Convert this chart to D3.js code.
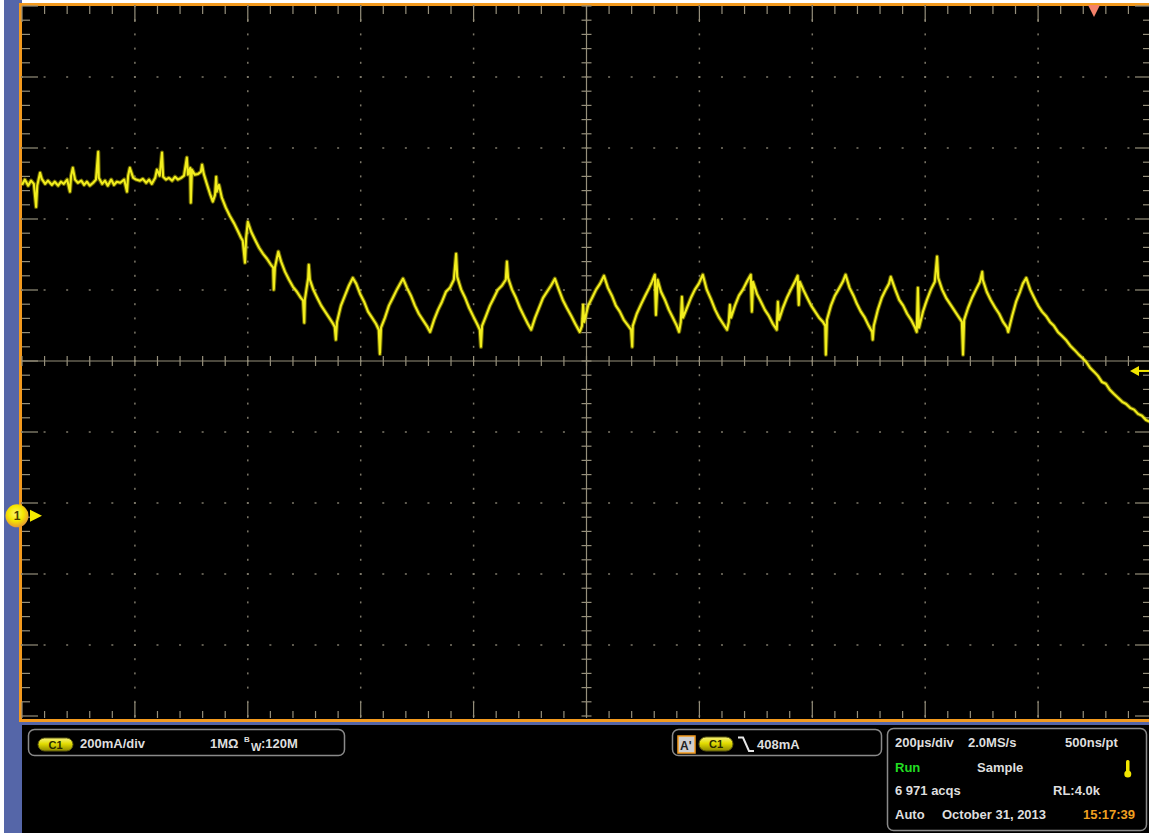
<!DOCTYPE html>
<html><head><meta charset="utf-8">
<script src="https://cdn.jsdelivr.net/npm/d3@7"></script>
<style>
body{margin:0;background:#fff;}
svg{display:block;font-family:"Liberation Sans",Arial,sans-serif;}
</style>
</head><body>
<svg id="c" width="1149" height="833"></svg>
<script>
// ---------------- settings ----------------
const MA_PER_DIV = 200;      // 200mA/div
const US_PER_DIV = 200;      // 200µs/div
const CH1_POSITION_DIV = -2.18; // ground marker position (divisions from centre)
const TRIGGER_LEVEL_MA = 408;
const TRIGGER_TIME_US = 1899;

// ---------------- waveform: [time µs, current mA] ----------------
const plateauPts = [[0,932],[5,947],[11,930],[16,944],[21,935],[25,870],[27,930],[32,966],[35,949],[41,935],[46,944],[53,932],[58,941],[64,930],[69,941],[74,935],[80,947],[85,913],[87,958],[90,980],[94,947],[99,938],[105,944],[110,932],[115,941],[120,930],[126,938],[131,947],[135,1025],[136,952],[142,935],[147,944],[152,930],[158,947],[163,932],[168,941],[174,938],[181,947],[186,913],[188,958],[191,980],[197,952],[202,947],[209,944],[214,949],[220,938],[225,947],[230,935],[236,952],[239,975],[244,958],[248,1023],[250,955],[255,947],[260,952],[266,944],[271,955],[276,947],[282,952],[287,958],[292,1009],[294,961],[298,980],[299,882],[301,975],[306,961],[312,963],[317,969],[319,989],[322,963]];

const rampPts = [[328,932],[333,907],[338,885],[342,904],[344,955],[345,913],[349,932],[354,896],[361,868],[368,845],[376,823],[383,800],[388,783],[391,775],[395,713],[397,783],[400,828],[406,800],[413,777],[420,755],[427,738],[434,724],[441,707],[445,699],[446,637],[448,699],[454,744],[459,716],[466,687],[473,665],[480,645],[487,631],[494,614],[498,606],[500,544],[501,608],[507,670],[508,707],[510,665],[516,637],[523,614],[530,592],[537,575],[544,558],[551,541],[554,532],[556,496],[558,546],[565,592],[572,620],[579,648],[586,670]];

const ripplePts = [[592,654],[599,625],[606,603],[613,575],[620,558],[627,541],[632,524],[634,456],[636,530],[643,558],[650,592],[657,614],[664,637],[670,654],[675,668],[682,642],[689,620],[696,592],[703,569],[710,552],[717,535],[723,518],[730,552],[737,580],[744,603],[751,631],[758,642],[765,665],[769,738],[771,673],[778,637],[785,614],[792,586],[799,563],[806,541],[811,524],[813,476],[815,535],[822,563],[829,592],[836,614],[843,637],[850,648],[857,665],[859,716],[861,670],[868,637],[875,614],[882,586],[889,563],[896,541],[902,524],[909,558],[916,586],[923,614],[930,631],[937,648],[944,668],[951,637],[958,608],[965,586],[973,563],[980,541],[988,518],[992,535],[994,594],[996,546],[1003,592],[1010,614],[1017,637],[1024,654],[1031,676],[1038,642],[1045,620],[1052,592],[1059,575],[1066,552],[1074,535],[1079,524],[1081,476],[1082,535],[1089,569],[1097,597],[1104,620],[1111,642],[1116,659],[1121,679],[1123,566],[1126,665],[1132,631],[1139,608],[1146,580],[1153,558],[1160,535],[1164,518],[1167,546],[1169,617],[1171,558],[1178,586],[1185,614],[1192,637],[1199,654],[1206,679],[1213,637],[1221,608],[1228,580],[1235,558],[1242,541],[1249,524],[1252,546],[1254,594],[1256,558],[1263,592],[1270,620],[1277,637],[1284,659],[1291,679],[1293,575],[1295,659],[1302,625],[1309,603],[1316,580],[1323,563],[1330,541],[1337,524],[1339,603],[1341,552],[1348,586],[1355,614],[1362,637],[1369,659],[1374,676],[1376,594],[1378,659],[1384,637],[1391,614],[1398,592],[1405,575],[1412,558],[1419,546],[1423,535],[1424,454],[1426,552],[1433,592],[1440,620],[1448,642],[1454,659],[1459,679],[1466,642],[1473,620],[1479,597],[1486,575],[1493,558],[1500,535],[1506,518],[1507,496],[1509,535],[1516,580],[1523,614],[1530,637],[1536,654],[1539,673],[1547,637],[1554,608],[1561,592],[1568,569],[1575,552],[1582,530],[1585,518],[1587,642],[1589,530],[1596,575],[1603,608],[1610,637],[1617,659],[1621,730],[1623,670],[1630,637],[1637,614],[1644,597],[1651,580],[1658,563],[1665,546],[1667,454],[1669,552],[1676,586],[1683,614],[1690,637],[1697,659],[1701,687],[1702,665],[1709,631],[1716,608],[1724,586],[1731,569],[1738,546],[1745,530],[1747,518],[1754,563],[1761,603],[1768,631],[1773,654],[1779,670]];

const tailPts = [[1786,637],[1793,614],[1800,592],[1807,575],[1814,563],[1821,546],[1828,535],[1835,518],[1842,507],[1849,496],[1857,479],[1864,468],[1871,456],[1878,445],[1885,434],[1892,417],[1899,406],[1906,394],[1913,377],[1920,372],[1927,355],[1934,344],[1942,332],[1949,321],[1956,315],[1963,304],[1970,299],[1977,287],[1984,282],[1991,270],[1998,265]];

// ---------------- readouts ----------------
const ch1Readout = ["200mA/div", "1MΩ", "120M"];
const trigReadout = ["C1", "408mA"];
const acqRow1 = ["200µs/div", "2.0MS/s", "500ns/pt"];
const acqRow2 = ["Run", "Sample"];
const acqRow3 = ["6 971 acqs", "RL:4.0k"];
const acqRow4 = ["Auto", "October 31, 2013", "15:17:39"];

// ---------------- drawing ----------------
const svg = d3.select("#c");
const W = 1149, H = 833;
const L = 22, R = 1151, T = 6, B = 716;

const xDiv = d3.scaleLinear().domain([0, 10]).range([L, R]);
const yDiv = d3.scaleLinear().domain([-5, 5]).range([B, T]);
const x = d3.scaleLinear().domain([0, 10 * US_PER_DIV]).range([L, R]);
const y = d3.scaleLinear()
  .domain([(-5 - CH1_POSITION_DIV) * MA_PER_DIV, (5 - CH1_POSITION_DIV) * MA_PER_DIV])
  .range([B, T]);

const ORANGE = "#f39a1e", BLUE = "#5566a8", GRID = "#958f7b", DOT = "#7d7869", TRACE = "#f2ee1e";

svg.append("rect").attr("width", W).attr("height", H).attr("fill", "#fff");
svg.append("rect").attr("x", 4).attr("y", 0).attr("width", 18).attr("height", H).attr("fill", BLUE);
svg.append("rect").attr("x", 22).attr("y", 722).attr("width", W - 22).attr("height", H - 722).attr("fill", "#000");
svg.append("rect").attr("x", 4).attr("y", 722).attr("width", W - 4).attr("height", 3).attr("fill", BLUE);
svg.append("rect").attr("x", L).attr("y", 3).attr("width", W - L).attr("height", 716).attr("fill", "#000");
svg.append("rect").attr("x", 19).attr("y", 3).attr("width", W - 19).attr("height", 3).attr("fill", ORANGE);
svg.append("rect").attr("x", 19).attr("y", 3).attr("width", 3).attr("height", 719).attr("fill", ORANGE);
svg.append("rect").attr("x", 19).attr("y", 719).attr("width", W - 19).attr("height", 3).attr("fill", ORANGE);

const grat = svg.append("g");
const minorX = d3.range(0, 51).map(i => i / 5);
const minorY = d3.range(-25, 26).map(i => i / 5);
for (let i = 1; i < 10; i++) {
  if (i === 5) continue;
  grat.selectAll(null).data(minorY).join("rect")
    .attr("x", xDiv(i) - 0.75).attr("y", d => yDiv(d) - 1).attr("width", 1.5).attr("height", 2).attr("fill", DOT);
}
for (let j = -4; j <= 4; j++) {
  if (j === 0) continue;
  grat.selectAll(null).data(minorX).join("rect")
    .attr("x", d => xDiv(d) - 1).attr("y", yDiv(j) - 0.75).attr("width", 2).attr("height", 1.5).attr("fill", DOT);
}
grat.append("line").attr("x1", xDiv(5)).attr("x2", xDiv(5)).attr("y1", T).attr("y2", B).attr("stroke", GRID).attr("stroke-width", 1.2);
grat.append("line").attr("x1", L).attr("x2", R).attr("y1", yDiv(0)).attr("y2", yDiv(0)).attr("stroke", GRID).attr("stroke-width", 1.2);
grat.selectAll(null).data(minorX).join("line")
  .attr("x1", d => xDiv(d)).attr("x2", d => xDiv(d)).attr("y1", yDiv(0) - 5).attr("y2", yDiv(0) + 5)
  .attr("stroke", GRID).attr("stroke-width", 1.2);
grat.selectAll(null).data(minorY).join("line")
  .attr("y1", d => yDiv(d)).attr("y2", d => yDiv(d)).attr("x1", xDiv(5) - 5).attr("x2", xDiv(5) + 5)
  .attr("stroke", GRID).attr("stroke-width", 1.2);
const isMajor = d => Math.abs(d - Math.round(d)) < 1e-6;
grat.selectAll(null).data(minorX).join("line")
  .attr("x1", d => xDiv(d)).attr("x2", d => xDiv(d)).attr("y1", T).attr("y2", d => T + (isMajor(d) ? 16 : 8))
  .attr("stroke", GRID).attr("stroke-width", 1.2);
grat.selectAll(null).data(minorX).join("line")
  .attr("x1", d => xDiv(d)).attr("x2", d => xDiv(d)).attr("y1", B + 2).attr("y2", d => B + 2 - (isMajor(d) ? 16 : 7))
  .attr("stroke", GRID).attr("stroke-width", 1.2);
grat.selectAll(null).data(minorY).join("line")
  .attr("y1", d => yDiv(d)).attr("y2", d => yDiv(d)).attr("x1", L).attr("x2", d => L + (isMajor(d) ? 16 : 8))
  .attr("stroke", GRID).attr("stroke-width", 1.2);
grat.selectAll(null).data(minorY).join("line")
  .attr("y1", d => yDiv(d)).attr("y2", d => yDiv(d)).attr("x1", R).attr("x2", d => R - (isMajor(d) ? 16 : 8))
  .attr("stroke", GRID).attr("stroke-width", 1.2);

// waveform
const wave = plateauPts.concat(rampPts, ripplePts, tailPts);
const line = d3.line().x(d => x(d[0])).y(d => y(d[1]));
svg.append("path").datum(wave).attr("d", line).attr("fill", "none")
  .attr("stroke", "#c4bc00").attr("stroke-width", 4.2).attr("stroke-opacity", 0.5).attr("stroke-linejoin", "round");
svg.append("path").datum(wave).attr("d", line).attr("fill", "none")
  .attr("stroke", TRACE).attr("stroke-width", 2.1).attr("stroke-linejoin", "round");

// trigger position marker (top)
const tx = x(TRIGGER_TIME_US);
svg.append("path").attr("d", `M${tx - 6},5 L${tx + 6},5 L${tx},17 Z`).attr("fill", "#f4826a");
// trigger level marker (right)
const ty = y(TRIGGER_LEVEL_MA);
svg.append("path").attr("d", `M1130,${ty} L1139,${ty - 5} L1139,${ty + 5} Z`).attr("fill", "#f2e600");
svg.append("rect").attr("x", 1138).attr("y", ty - 1).attr("width", 12).attr("height", 2).attr("fill", "#f2e600");

// channel 1 ground marker
const defs = svg.append("defs");
const rg = defs.append("radialGradient").attr("id", "chg").attr("cx", "45%").attr("cy", "40%").attr("r", "60%");
rg.append("stop").attr("offset", "0%").attr("stop-color", "#fff86a");
rg.append("stop").attr("offset", "55%").attr("stop-color", "#f5e800");
rg.append("stop").attr("offset", "100%").attr("stop-color", "#e89a30");
const gy = y(0);
svg.append("circle").attr("cx", 17).attr("cy", gy).attr("r", 11.5).attr("fill", "url(#chg)");
svg.append("text").attr("x", 17).attr("y", gy + 4.5).attr("text-anchor", "middle")
  .attr("font-size", 12).attr("font-weight", "bold").attr("fill", "#4a3e00").text("1");
svg.append("path").attr("d", `M30,${gy - 6} L42,${gy} L30,${gy + 6} Z`).attr("fill", "#f5ec00");

const lg = defs.append("linearGradient").attr("id", "pill").attr("x1", 0).attr("x2", 0).attr("y1", 0).attr("y2", 1);
lg.append("stop").attr("offset", "0%").attr("stop-color", "#f6f27a");
lg.append("stop").attr("offset", "45%").attr("stop-color", "#e2dc00");
lg.append("stop").attr("offset", "100%").attr("stop-color", "#8e8a00");
function pill(px, py, w, h, label) {
  svg.append("rect").attr("x", px).attr("y", py).attr("width", w).attr("height", h).attr("rx", h / 2)
    .attr("fill", "url(#pill)").attr("stroke", "#5e5a10").attr("stroke-width", 1);
  svg.append("text").attr("x", px + w / 2).attr("y", py + h / 2 + 4).attr("text-anchor", "middle")
    .attr("font-size", 11).attr("font-weight", "bold").attr("fill", "#2a2a00").text(label);
}
function box(bx, by, w, h) {
  svg.append("rect").attr("x", bx).attr("y", by).attr("width", w).attr("height", h).attr("rx", 6)
    .attr("fill", "#000").attr("stroke", "#8a8a8a").attr("stroke-width", 1.5);
}
function txt(tx_, ty_, s, color, size) {
  return svg.append("text").attr("x", tx_).attr("y", ty_).attr("font-size", size || 13)
    .attr("font-weight", "bold").attr("fill", color || "#dedede").text(s);
}

// channel readout box
box(28.5, 729.5, 316, 26);
pill(38, 738, 35, 13, "C1");
txt(80, 748, ch1Readout[0]);
txt(210, 748, ch1Readout[1]);
txt(244, 742, "B", "#dedede", 8);
txt(251, 751, "W", "#dedede", 11);
txt(261, 748, ":" + ch1Readout[2]);

// trigger readout box
box(672.5, 729.5, 209, 26);
svg.append("rect").attr("x", 678).attr("y", 736).attr("width", 17).attr("height", 17)
  .attr("fill", "#cfcfcf").attr("stroke", ORANGE).attr("stroke-width", 1.5);
txt(680, 750, "A'", "#222", 12);
pill(699, 737, 34, 14, trigReadout[0]);
svg.append("path").attr("d", "M738,737.5 L743,737.5 L749,751 L754,751").attr("fill", "none")
  .attr("stroke", "#e6e6e6").attr("stroke-width", 2);
txt(757, 749, trigReadout[1]);

// acquisition box
box(887.5, 728.5, 259, 102);
txt(895, 747, acqRow1[0]);
txt(968, 747, acqRow1[1]);
txt(1065, 747, acqRow1[2]);
txt(895, 772, acqRow2[0], "#22dd22");
txt(977, 772, acqRow2[1]);
svg.append("rect").attr("x", 1126).attr("y", 760).attr("width", 3.5).attr("height", 14).attr("rx", 1.5).attr("fill", "#f2e600");
svg.append("circle").attr("cx", 1127.8).attr("cy", 774).attr("r", 3.5).attr("fill", "#f2e600");
txt(895, 795, acqRow3[0]);
txt(1053, 795, acqRow3[1]);
txt(895, 819, acqRow4[0]);
txt(942, 819, acqRow4[1]);
txt(1083, 819, acqRow4[2], "#f0a020");
</script>
</body></html>
